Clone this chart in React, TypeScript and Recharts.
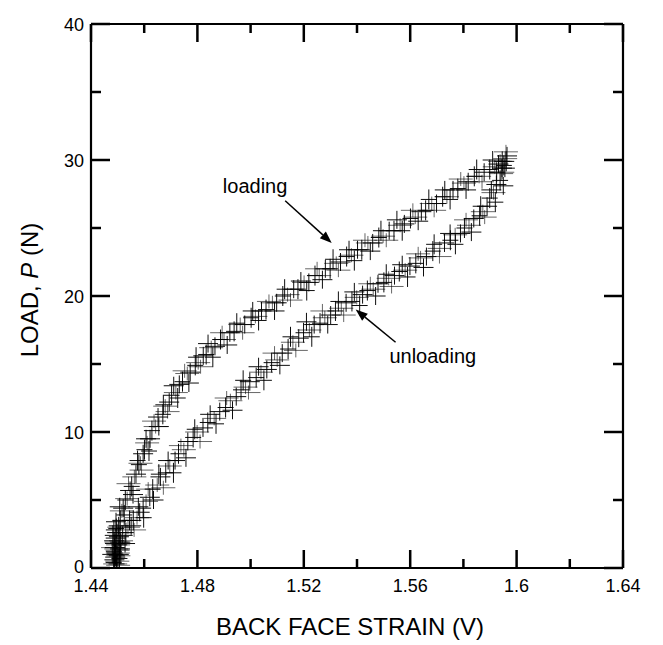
import { ScatterChart, Scatter, XAxis, YAxis, ReferenceLine, ReferenceDot } from 'recharts';

// values: [back face strain (V), load P (N)]
const cluster: [number, number][] = [
  [1.4488, 0.6], [1.4492, 1.0], [1.4495, 1.4], [1.4490, 1.8], [1.4497, 0.9], [1.4500, 1.3],
  [1.4493, 2.2], [1.4486, 1.2], [1.4502, 1.7], [1.4498, 2.6], [1.4485, 0.4], [1.4499, 0.5],
  [1.4487, 2.0], [1.4507, 0.7], [1.4483, 1.5], [1.4509, 1.4], [1.4495, 2.9], [1.4502, 0.2],
  [1.4480, 1.0], [1.4512, 1.0], [1.4491, 0.3], [1.4505, 2.3], [1.4482, 2.4], [1.4496, 1.9],
  [1.4510, 1.9], [1.4489, 1.1], [1.4503, 0.9], [1.4494, 3.4], [1.4486, 2.8], [1.4506, 3.0],
];

const loading: [number, number][] = [
  [1.4504, 3.1], [1.4510, 3.5], [1.4516, 4.2], [1.4521, 4.4], [1.4529, 5.0], [1.4536, 5.1],
  [1.4547, 5.7], [1.4553, 6.0], [1.4563, 6.7], [1.4569, 6.9], [1.4580, 7.6], [1.4586, 7.7],
  [1.4596, 8.4], [1.4601, 8.7], [1.4611, 9.2], [1.4622, 9.5], [1.4629, 10.1], [1.4643, 10.4],
  [1.4652, 11.1], [1.4670, 11.3], [1.4679, 11.9], [1.4694, 12.2], [1.4703, 12.7], [1.4719, 12.9],
  [1.4732, 13.5], [1.4744, 13.7], [1.4762, 14.3], [1.4773, 14.4], [1.4792, 14.9], [1.4803, 15.1],
  [1.4822, 15.6], [1.4833, 15.7], [1.4852, 16.2], [1.4866, 16.3], [1.4887, 16.8], [1.4900, 16.8],
  [1.4922, 17.3], [1.4938, 17.4], [1.4961, 17.9], [1.4978, 17.9], [1.5002, 18.4], [1.5018, 18.5],
  [1.5041, 18.9], [1.5058, 19.0], [1.5082, 19.5], [1.5098, 19.5], [1.5121, 20.0], [1.5139, 20.1],
  [1.5162, 20.5], [1.5178, 20.5], [1.5201, 21.0], [1.5219, 21.0], [1.5242, 21.5], [1.5258, 21.5],
  [1.5281, 22.0], [1.5299, 22.0], [1.5322, 22.4], [1.5338, 22.5], [1.5361, 22.9], [1.5379, 23.0],
  [1.5402, 23.4], [1.5418, 23.4], [1.5441, 23.9], [1.5459, 23.9], [1.5482, 24.3], [1.5498, 24.4],
  [1.5521, 24.8], [1.5539, 24.8], [1.5562, 25.2], [1.5578, 25.3], [1.5601, 25.7], [1.5619, 25.8],
  [1.5642, 26.2], [1.5658, 26.3], [1.5681, 26.8], [1.5699, 26.8], [1.5722, 27.3], [1.5738, 27.3],
  [1.5761, 27.8], [1.5779, 27.9], [1.5802, 28.3], [1.5818, 28.4], [1.5841, 28.8], [1.5859, 28.8],
  [1.5878, 29.1], [1.5899, 29.3], [1.5918, 29.5], [1.5932, 29.7], [1.5946, 29.9], [1.5957, 30.1],
  [1.5964, 30.3], [1.5952, 29.6], [1.5938, 29.9],
  [1.4508, 4.5], [1.4525, 3.9], [1.4541, 6.2], [1.4558, 5.4], [1.4575, 7.9], [1.4590, 7.2],
  [1.4607, 9.5], [1.4618, 8.6], [1.4637, 10.8], [1.4655, 10.4], [1.4672, 12.0], [1.4688, 11.5],
  [1.4711, 13.4], [1.4726, 12.5], [1.4752, 14.5], [1.4768, 13.6], [1.4795, 15.5], [1.4812, 14.8],
  [1.4840, 16.5], [1.4858, 15.5], [1.4893, 17.3], [1.4912, 16.4], [1.4948, 18.0], [1.4970, 17.3],
  [1.5008, 18.9], [1.5030, 18.2], [1.5069, 19.6], [1.5090, 18.9], [1.5128, 20.5], [1.5150, 19.7],
  [1.5189, 21.1], [1.5211, 20.4], [1.5250, 22.0], [1.5270, 21.2], [1.5310, 22.7], [1.5330, 21.9],
  [1.5370, 23.4], [1.5390, 22.6], [1.5430, 24.1], [1.5450, 23.3], [1.5490, 24.8], [1.5510, 24.1],
  [1.5550, 25.6], [1.5570, 24.8], [1.5610, 26.3], [1.5630, 25.5], [1.5670, 27.1], [1.5690, 26.3],
  [1.5730, 27.8], [1.5750, 27.1], [1.5790, 28.6], [1.5810, 27.8], [1.5850, 29.3], [1.5870, 28.4],
  [1.5910, 30.0], [1.5925, 29.1], [1.5960, 30.6], [1.5945, 29.4],
];

const unloading: [number, number][] = [
  [1.4491, 0.8], [1.4496, 0.3], [1.4501, 1.1], [1.4489, 1.5], [1.4506, 1.7], [1.4513, 2.0],
  [1.4519, 2.4], [1.4531, 2.6], [1.4539, 3.0], [1.4551, 3.1], [1.4559, 3.5], [1.4573, 3.7],
  [1.4583, 4.1], [1.4596, 4.4], [1.4607, 4.9], [1.4621, 5.2], [1.4632, 5.8], [1.4649, 6.1],
  [1.4661, 6.7], [1.4681, 7.0], [1.4696, 7.5], [1.4716, 7.9], [1.4729, 8.4], [1.4749, 8.7],
  [1.4764, 9.3], [1.4784, 9.6], [1.4799, 10.0], [1.4821, 10.3], [1.4839, 10.7], [1.4863, 11.0],
  [1.4884, 11.5], [1.4906, 11.8], [1.4924, 12.3], [1.4946, 12.6], [1.4964, 13.1], [1.4981, 13.3],
  [1.4997, 13.7], [1.5021, 14.0], [1.5039, 14.4], [1.5061, 14.6], [1.5079, 15.1], [1.5100, 15.3],
  [1.5119, 15.8], [1.5141, 16.1], [1.5159, 16.6], [1.5181, 16.9], [1.5199, 17.3], [1.5221, 17.5],
  [1.5239, 17.9], [1.5261, 18.0], [1.5279, 18.4], [1.5301, 18.6], [1.5319, 18.9], [1.5341, 19.1],
  [1.5359, 19.5], [1.5381, 19.6], [1.5399, 19.9], [1.5421, 20.1], [1.5439, 20.4], [1.5461, 20.5],
  [1.5479, 20.9], [1.5501, 21.0], [1.5519, 21.3], [1.5541, 21.5], [1.5559, 21.8], [1.5581, 21.9],
  [1.5599, 22.2], [1.5621, 22.4], [1.5639, 22.8], [1.5661, 22.9], [1.5685, 23.3], [1.5711, 23.5],
  [1.5729, 23.9], [1.5751, 24.1], [1.5769, 24.5], [1.5789, 24.6], [1.5804, 25.0], [1.5821, 25.2],
  [1.5839, 25.7], [1.5861, 25.9], [1.5873, 26.2], [1.5889, 26.6], [1.5899, 27.2], [1.5913, 27.6],
  [1.5924, 28.2], [1.5938, 28.5], [1.5946, 29.1], [1.5956, 29.4], [1.5961, 29.9],
  [1.4510, 2.6], [1.4528, 1.8], [1.4545, 3.5], [1.4562, 2.8], [1.4578, 4.5], [1.4598, 3.7],
  [1.4615, 5.8], [1.4635, 5.0], [1.4655, 6.9], [1.4672, 5.9], [1.4690, 7.9], [1.4710, 7.0],
  [1.4738, 9.0], [1.4757, 8.1], [1.4790, 10.2], [1.4810, 9.3], [1.4848, 11.3], [1.4870, 10.6],
  [1.4910, 12.5], [1.4932, 11.6], [1.4972, 13.8], [1.4992, 12.9], [1.5030, 14.8], [1.5050, 13.8],
  [1.5090, 15.8], [1.5110, 14.9], [1.5150, 17.0], [1.5170, 16.0], [1.5210, 18.1], [1.5230, 17.0],
  [1.5270, 18.9], [1.5290, 17.9], [1.5330, 19.6], [1.5350, 18.6], [1.5390, 20.3], [1.5410, 19.3],
  [1.5450, 20.9], [1.5470, 20.0], [1.5510, 21.6], [1.5530, 20.7], [1.5570, 22.3], [1.5590, 21.4],
  [1.5630, 23.1], [1.5650, 22.1], [1.5690, 23.8], [1.5710, 22.9], [1.5750, 24.6], [1.5770, 23.8],
  [1.5810, 25.6], [1.5830, 24.7], [1.5865, 26.6], [1.5880, 25.8], [1.5905, 27.8], [1.5920, 26.9],
  [1.5942, 29.0], [1.5950, 28.1],
];

const xTicks = [1.44, 1.46, 1.48, 1.5, 1.52, 1.54, 1.56, 1.58, 1.6, 1.62, 1.64];
const yTicks = [0, 5, 10, 15, 20, 25, 30, 35, 40];

const toRows = (pts: [number, number][]) => pts.map(([x, y]) => ({ x, y }));

const FONT = '"Liberation Sans", Arial, Helvetica, sans-serif';
const AXIS_W = 2.2;

const isMajorX = (v: number) => Math.round(v * 100) % 4 === 0;
const isMajorY = (v: number) => v % 10 === 0;

const BottomTick = (props: any) => {
  const { x, y, payload } = props;
  const v = payload.value;
  const major = isMajorX(v);
  return (
    <g>
      <line x1={x} y1={y} x2={x} y2={y - (major ? 18 : 9)} stroke="#000" strokeWidth={2.5} />
      {major && (
        <text x={x} y={y + 24} textAnchor="middle" fontFamily={FONT} fontSize={18} fill="#000">
          {String(Number(v.toFixed(2)))}
        </text>
      )}
    </g>
  );
};

const TopTick = (props: any) => {
  const { x, y, payload } = props;
  const major = isMajorX(payload.value);
  return <line x1={x} y1={y} x2={x} y2={y + (major ? 18 : 9)} stroke="#000" strokeWidth={2.5} />;
};

const LeftTick = (props: any) => {
  const { x, y, payload } = props;
  const v = payload.value;
  const major = isMajorY(v);
  return (
    <g>
      <line x1={x} y1={y} x2={x + (major ? 19 : 10)} y2={y} stroke="#000" strokeWidth={2.5} />
      {major && (
        <text x={x - 7} y={v === 0 ? y + 5 : y + 6.5} textAnchor="end" fontFamily={FONT} fontSize={18} fill="#000">
          {v}
        </text>
      )}
    </g>
  );
};

const RightTick = (props: any) => {
  const { x, y, payload } = props;
  const major = isMajorY(payload.value);
  return <line x1={x} y1={y} x2={x - (major ? 19 : 10)} y2={y} stroke="#000" strokeWidth={2.5} />;
};

const Cross = (props: any) => {
  const { cx, cy, index } = props;
  if (cx == null || cy == null) return <g />;
  const k = (index ?? 0) % 3;
  const hw = k === 0 ? 10 : k === 1 ? 8 : 12;
  const hh = k === 0 ? 9 : k === 1 ? 10 : 7;
  return (
    <g stroke="#000" strokeWidth={1} strokeOpacity={k === 2 ? 0.6 : 0.95}>
      <line x1={cx - hw} y1={cy} x2={cx + hw} y2={cy} />
      <line x1={cx} y1={cy - hh} x2={cx} y2={cy + hh} />
    </g>
  );
};

const Arrow = (props: any) => {
  const { x1, y1, x2, y2 } = props;
  if (x1 == null) return <g />;
  const ang = Math.atan2(y2 - y1, x2 - x1);
  const len = 12;
  const w = 4.5;
  const bx = x2 - len * Math.cos(ang);
  const by = y2 - len * Math.sin(ang);
  const px = -Math.sin(ang) * w;
  const py = Math.cos(ang) * w;
  return (
    <g>
      <line x1={x1} y1={y1} x2={bx} y2={by} stroke="#000" strokeWidth={1.5} />
      <polygon points={`${x2},${y2} ${bx + px},${by + py} ${bx - px},${by - py}`} fill="#000" />
    </g>
  );
};

const xTitle = (props: any) => {
  const vb = props.viewBox;
  return (
    <text x={vb.x + vb.width / 2 - 7} y={vb.y + 67} textAnchor="middle" fontFamily={FONT} fontSize={24} fill="#000">
      BACK FACE STRAIN (V)
    </text>
  );
};

const yTitle = (props: any) => {
  const vb = props.viewBox;
  const cx = 30;
  const cy = vb.y + vb.height / 2 - 6;
  return (
    <text x={cx} y={cy} transform={`rotate(-90 ${cx} ${cy})`} textAnchor="middle" fontFamily={FONT} fontSize={24} fill="#000">
      LOAD, <tspan fontStyle="italic">P</tspan> (N)
    </text>
  );
};

const noteLabel = (text: string) => (props: any) => {
  const vb = props.viewBox;
  return (
    <text x={vb.x} y={vb.y + 7} textAnchor="middle" fontFamily={FONT} fontSize={20} fill="#000">
      {text}
    </text>
  );
};

export default function App() {
  return (
    <div style={{ background: '#fff', width: 655 }}>
      <ScatterChart width={655} height={637} margin={{ top: 15, right: 39, bottom: 0, left: 0 }}>
        <XAxis
          xAxisId="b"
          type="number"
          dataKey="x"
          domain={[1.44, 1.64]}
          ticks={xTicks}
          interval={0}
          allowDataOverflow
          height={77}
          tickSize={0}
          tickMargin={0}
          tickLine={false}
          tick={BottomTick}
          axisLine={{ stroke: '#000', strokeWidth: AXIS_W }}
          label={xTitle}
        />
        <XAxis
          xAxisId="t"
          orientation="top"
          type="number"
          dataKey="x"
          domain={[1.44, 1.64]}
          ticks={xTicks}
          interval={0}
          allowDataOverflow
          height={1}
          tickSize={0}
          tickMargin={0}
          tickLine={false}
          tick={TopTick}
          axisLine={{ stroke: '#000', strokeWidth: AXIS_W }}
        />
        <YAxis
          yAxisId="l"
          type="number"
          dataKey="y"
          domain={[0, 40]}
          ticks={yTicks}
          interval={0}
          allowDataOverflow
          width={83}
          tickSize={0}
          tickMargin={0}
          tickLine={false}
          tick={LeftTick}
          axisLine={{ stroke: '#000', strokeWidth: AXIS_W }}
          label={yTitle}
        />
        <YAxis
          yAxisId="r"
          orientation="right"
          type="number"
          dataKey="y"
          domain={[0, 40]}
          ticks={yTicks}
          interval={0}
          allowDataOverflow
          width={1}
          tickSize={0}
          tickMargin={0}
          tickLine={false}
          tick={RightTick}
          axisLine={{ stroke: '#000', strokeWidth: AXIS_W }}
        />
        <Scatter xAxisId="b" yAxisId="l" data={toRows(cluster)} shape={Cross} isAnimationActive={false} />
        <Scatter xAxisId="b" yAxisId="l" data={toRows(loading)} shape={Cross} isAnimationActive={false} />
        <Scatter xAxisId="b" yAxisId="l" data={toRows(unloading)} shape={Cross} isAnimationActive={false} />
        <Scatter xAxisId="t" yAxisId="r" data={toRows(loading)} shape={() => <g />} isAnimationActive={false} />
        <ReferenceLine
          xAxisId="b"
          yAxisId="l"
          segment={[{ x: 1.513, y: 27.0 }, { x: 1.5305, y: 23.9 }]}
          shape={Arrow}
        />
        <ReferenceLine
          xAxisId="b"
          yAxisId="l"
          segment={[{ x: 1.5545, y: 16.6 }, { x: 1.5395, y: 19.0 }]}
          shape={Arrow}
        />
        <ReferenceDot xAxisId="b" yAxisId="l" x={1.5017} y={28.1} r={0} stroke="none" fill="none" label={noteLabel('loading')} />
        <ReferenceDot xAxisId="b" yAxisId="l" x={1.5685} y={15.6} r={0} stroke="none" fill="none" label={noteLabel('unloading')} />
      </ScatterChart>
    </div>
  );
}
